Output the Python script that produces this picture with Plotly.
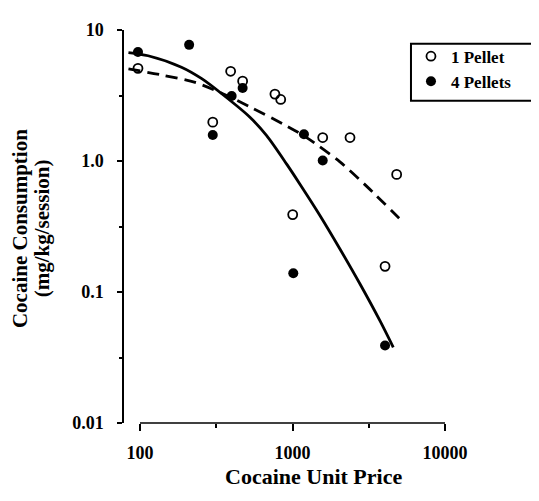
import plotly.graph_objects as go

price_1 = [97, 300, 393, 471, 767, 837, 1003, 1578, 2383, 4045, 4820]
cons_1 = [5.1, 1.98, 4.84, 4.07, 3.24, 2.95, 0.39, 1.51, 1.51, 0.157, 0.79]
price_4 = [97, 210, 300, 399, 471, 1012, 1189, 1578, 4045]
cons_4 = [6.8, 7.7, 1.58, 3.13, 3.61, 0.139, 1.60, 1.01, 0.039]

# Fitted curves
fit4_price = [84, 113, 187, 254, 352, 526, 677, 916, 1119, 1513, 2047, 2772, 3750, 4580]
fit4_cons = [6.73, 6.36, 5.20, 4.25, 3.19, 2.16, 1.56, 0.946, 0.665, 0.384, 0.213, 0.115, 0.0601, 0.0378]
fit1_price = [84, 142, 230, 352, 526, 871, 1239, 2047, 3069, 5330]
fit1_cons = [5.05, 4.51, 3.98, 3.25, 2.59, 1.91, 1.51, 0.984, 0.640, 0.340]

y_tickvals = [0.01, 0.1, 1, 10]
y_ticktext = ["0.01", "0.1", "1.0", "10"]
x_tickvals = [100, 1000, 10000]
x_ticktext = ["100", "1000", "10000"]
x_minor = [316.2, 3162]
y_minor = [0.0316, 0.316, 3.16]

FONT = "Liberation Serif"

fig = go.Figure()
fig.add_trace(go.Scatter(x=fit4_price, y=fit4_cons, mode="lines", showlegend=False,
                         line=dict(color="black", width=2.8, shape="spline", smoothing=0.8)))
fig.add_trace(go.Scatter(x=fit1_price, y=fit1_cons, mode="lines", showlegend=False,
                         line=dict(color="black", width=2.8, dash="12px,7px", shape="spline", smoothing=0.8)))
fig.add_trace(go.Scatter(x=price_1, y=cons_1, mode="markers", name="1 Pellet",
                         marker=dict(symbol="circle-open", size=9, color="black", line=dict(width=1.8))))
fig.add_trace(go.Scatter(x=price_4, y=cons_4, mode="markers", name="4 Pellets",
                         marker=dict(symbol="circle", size=10, color="black")))

# page has an 8px body margin; plot area on page: x 124..445, y 22..423
fig.update_layout(
    width=531, height=493,
    margin=dict(l=116, r=94, t=14, b=78),
    paper_bgcolor="white", plot_bgcolor="white",
    font=dict(family=FONT, color="black", size=18, weight="bold"),
    legend=dict(x=0.894, y=0.978, xanchor="left", yanchor="top",
                bgcolor="rgba(0,0,0,0)", borderwidth=0,
                font=dict(family=FONT, size=17, weight="bold", color="black")),
    xaxis=dict(type="log", range=[1.8951, 4.0], showline=False, showgrid=False, zeroline=False,
               ticks="outside", ticklen=7, tickwidth=1.5, tickcolor="black",
               tickvals=x_tickvals, ticktext=x_ticktext, ticklabelstandoff=6,
               tickfont=dict(family=FONT, size=18, weight="bold"),
               minor=dict(tickvals=x_minor, ticks="outside", ticklen=4, tickwidth=1.5, tickcolor="black")),
    yaxis=dict(type="log", range=[-2, 1], showline=True, linecolor="black", linewidth=1.5,
               showgrid=False, zeroline=False,
               ticks="outside", ticklen=5, tickwidth=1.5, tickcolor="black",
               tickvals=y_tickvals, ticktext=y_ticktext, ticklabelstandoff=10,
               tickfont=dict(family=FONT, size=18, weight="bold"),
               minor=dict(tickvals=y_minor, ticks="outside", ticklen=3, tickwidth=1.5, tickcolor="black")),
)

# x-axis line from 100 to 10000 (the axis is offset from the y axis)
fig.add_shape(type="line", xref="x", yref="paper", x0=100, x1=10000, y0=0, y1=0,
              line=dict(color="black", width=1.5))
# legend box
fig.add_shape(type="rect", xref="paper", yref="paper", x0=0.894, x1=1.284, y0=0.820, y1=0.965,
              line=dict(color="black", width=2))

fig.add_annotation(text="Cocaine Unit Price", xref="paper", yref="paper", x=0.589, y=-0.137,
                   showarrow=False, xanchor="center", yanchor="middle",
                   font=dict(family=FONT, size=22, weight="bold"))
fig.add_annotation(text="Cocaine Consumption", xref="paper", yref="paper", x=-0.324, y=0.496,
                   showarrow=False, textangle=-90, xanchor="center", yanchor="middle", borderpad=0,
                   font=dict(family=FONT, size=21, weight="bold"))
fig.add_annotation(text="(mg/kg/session)", xref="paper", yref="paper", x=-0.255, y=0.496,
                   showarrow=False, textangle=-90, xanchor="center", yanchor="middle", borderpad=0,
                   font=dict(family=FONT, size=21, weight="bold"))

fig.write_html("out.html")
